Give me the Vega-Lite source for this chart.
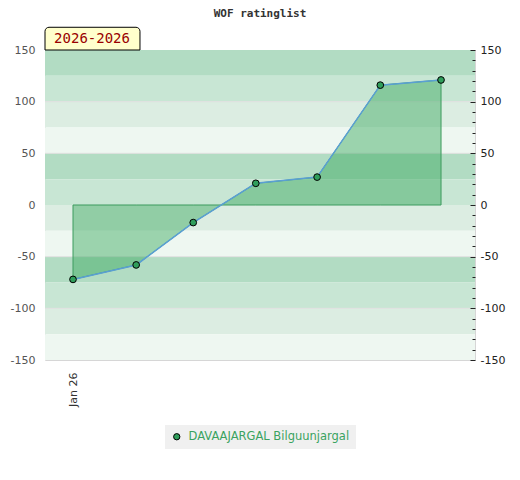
{
  "$schema": "https://vega.github.io/schema/vega-lite/v6.json",
  "autosize": {"type": "none"},
  "padding": {"left": 45, "top": 50, "right": 45, "bottom": 120},
  "width": 430,
  "height": 310,
  "title": {"text": "WOF ratinglist", "font": "DejaVu Sans Mono", "fontSize": 11, "fontWeight": "bold", "color": "#333333", "offset": 8, "frame": "group"},
  "config": {
    "view": {"stroke": "#d6d6d6"},
    "axis": {"labelFont": "DejaVu Sans", "labelFontSize": 11, "domain": false}
  },
  "datasets": {
    "bands": [
      {"lo": 125, "hi": 150, "tier": "a"},
      {"lo": 100, "hi": 125, "tier": "b"},
      {"lo": 75, "hi": 100, "tier": "c"},
      {"lo": 50, "hi": 75, "tier": "d"},
      {"lo": 25, "hi": 50, "tier": "a"},
      {"lo": 0, "hi": 25, "tier": "b"},
      {"lo": -25, "hi": 0, "tier": "c"},
      {"lo": -50, "hi": -25, "tier": "d"},
      {"lo": -75, "hi": -50, "tier": "a"},
      {"lo": -100, "hi": -75, "tier": "b"},
      {"lo": -125, "hi": -100, "tier": "c"},
      {"lo": -150, "hi": -125, "tier": "d"}
    ],
    "grid": [{"v": -100}, {"v": -50}, {"v": 50}, {"v": 100}],
    "main": [
      {"t": 0, "rating": -72, "player": "DAVAAJARGAL Bilguunjargal"},
      {"t": 1.03, "rating": -58, "player": "DAVAAJARGAL Bilguunjargal"},
      {"t": 1.96, "rating": -17, "player": "DAVAAJARGAL Bilguunjargal"},
      {"t": 2.98, "rating": 21, "player": "DAVAAJARGAL Bilguunjargal"},
      {"t": 3.98, "rating": 27, "player": "DAVAAJARGAL Bilguunjargal"},
      {"t": 5.01, "rating": 116, "player": "DAVAAJARGAL Bilguunjargal"},
      {"t": 6, "rating": 121, "player": "DAVAAJARGAL Bilguunjargal"}
    ],
    "period": [{"label": "2026-2026"}]
  },
  "resolve": {"scale": {"y": "independent", "color": "independent"}},
  "layer": [
    {
      "data": {"name": "bands"},
      "mark": {"type": "rect"},
      "encoding": {
        "y": {"field": "lo", "type": "quantitative", "scale": {"domain": [-150, 150], "nice": false, "zero": false},
          "axis": {"orient": "left", "values": [-150, -100, -50, 0, 50, 100, 150], "labelExpr": "'' + datum.value", "ticks": false, "tickSize": 0, "labelPadding": 10, "grid": false, "title": null, "labelColor": "#555555"}},
        "y2": {"field": "hi"},
        "color": {"field": "tier", "type": "nominal", "scale": {"domain": ["a", "b", "c", "d"], "range": ["#b2dcc3", "#c8e6d4", "#dcede2", "#eef7f1"]}, "legend": null}
      }
    },
    {
      "data": {"name": "grid"},
      "mark": {"type": "rule", "color": "#e0e0e0", "strokeWidth": 1},
      "encoding": {
        "y": {"field": "v", "type": "quantitative", "scale": {"domain": [-150, 150], "nice": false, "zero": false}, "axis": null}
      }
    },
    {
      "data": {"name": "main"},
      "mark": {"type": "area", "fill": "#36a75a", "fillOpacity": 0.45, "stroke": "#3d9b5e", "strokeWidth": 1},
      "encoding": {
        "x": {"field": "t", "type": "quantitative", "scale": {"domain": [-0.4565, 6.554], "nice": false, "zero": false},
          "axis": {"values": [0], "labelExpr": "'Jan 26'", "labelAngle": -90, "ticks": false, "tickSize": 0, "labelPadding": 12, "grid": false, "title": null, "labelColor": "#333333"}},
        "y": {"field": "rating", "type": "quantitative", "scale": {"domain": [-150, 150], "nice": false, "zero": false}, "axis": null},
        "y2": {"datum": 0}
      }
    },
    {
      "data": {"name": "main"},
      "mark": {"type": "line", "color": "#5a9fd4", "strokeWidth": 1.5},
      "encoding": {
        "x": {"field": "t", "type": "quantitative", "scale": {"domain": [-0.4565, 6.554], "nice": false, "zero": false},
          "axis": {"values": [0], "labelExpr": "'Jan 26'", "labelAngle": -90, "ticks": false, "tickSize": 0, "labelPadding": 12, "grid": false, "title": null, "labelColor": "#333333"}},
        "y": {"field": "rating", "type": "quantitative", "scale": {"domain": [-150, 150], "nice": false, "zero": false}, "axis": null}
      }
    },
    {
      "data": {"name": "main"},
      "mark": {"type": "point", "filled": true, "stroke": "#000000", "strokeWidth": 1, "size": 45, "opacity": 1},
      "encoding": {
        "x": {"field": "t", "type": "quantitative", "scale": {"domain": [-0.4565, 6.554], "nice": false, "zero": false},
          "axis": {"values": [0], "labelExpr": "'Jan 26'", "labelAngle": -90, "ticks": false, "tickSize": 0, "labelPadding": 12, "grid": false, "title": null, "labelColor": "#333333"}},
        "y": {"field": "rating", "type": "quantitative", "scale": {"domain": [-150, 150], "nice": false, "zero": false},
          "axis": {"orient": "right", "values": [-150, -140, -130, -120, -110, -100, -90, -80, -70, -60, -50, -40, -30, -20, -10, 0, 10, 20, 30, 40, 50, 60, 70, 80, 90, 100, 110, 120, 130, 140, 150],
            "labelExpr": "datum.value % 50 === 0 ? '' + datum.value : ''",
            "tickSize": {"condition": {"test": "datum.value % 50 === 0", "value": -5}, "value": -3},
            "tickColor": "#222222", "labelColor": "#222222", "labelPadding": 10, "grid": false, "title": null, "zindex": 1}},
        "color": {"field": "player", "type": "nominal", "scale": {"range": ["#2f9e5b"]},
          "legend": {"title": null, "orient": "none", "legendX": 120, "legendY": 375, "fillColor": "#f0f0f0", "padding": 6, "labelColor": "#3aa35f", "labelFontSize": 11.5, "labelFont": "DejaVu Sans", "labelLimit": 400, "symbolType": "circle", "symbolStrokeColor": "#000000", "symbolStrokeWidth": 1, "symbolSize": 40, "labelOffset": 6}}
      }
    },
    {
      "data": {"name": "period"},
      "mark": {"type": "rect", "fill": "#ffffcc", "stroke": "#000000", "strokeWidth": 1, "cornerRadiusTopLeft": 4, "cornerRadiusTopRight": 4},
      "encoding": {
        "x": {"datum": -0.4565, "type": "quantitative", "scale": {"domain": [-0.4565, 6.554], "nice": false, "zero": false},
          "axis": {"values": [0], "labelExpr": "'Jan 26'", "labelAngle": -90, "ticks": false, "tickSize": 0, "labelPadding": 12, "grid": false, "title": null, "labelColor": "#333333"}},
        "x2": {"datum": 1.092},
        "y": {"datum": 150, "type": "quantitative", "scale": {"domain": [-150, 150], "nice": false, "zero": false}, "axis": null},
        "y2": {"datum": 172}
      }
    },
    {
      "data": {"name": "period"},
      "mark": {"type": "text", "font": "DejaVu Sans Mono", "fontSize": 14, "color": "#990000", "align": "center", "baseline": "middle"},
      "encoding": {
        "x": {"datum": 0.31, "type": "quantitative", "scale": {"domain": [-0.4565, 6.554], "nice": false, "zero": false},
          "axis": {"values": [0], "labelExpr": "'Jan 26'", "labelAngle": -90, "ticks": false, "tickSize": 0, "labelPadding": 12, "grid": false, "title": null, "labelColor": "#333333"}},
        "y": {"datum": 160.5, "type": "quantitative", "scale": {"domain": [-150, 150], "nice": false, "zero": false}, "axis": null},
        "text": {"field": "label"}
      }
    }
  ]
}
